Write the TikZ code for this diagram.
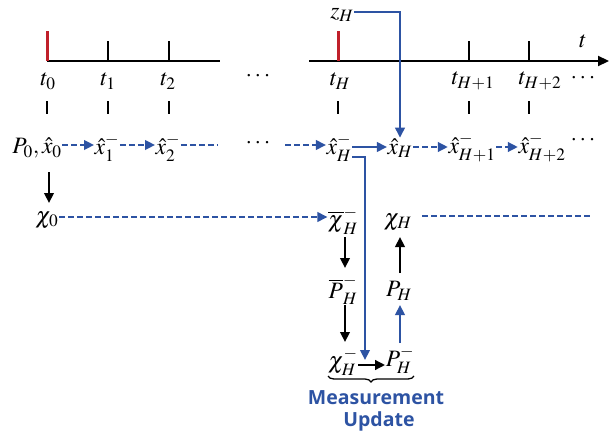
\documentclass[tikz,border=0pt]{standalone}
\usepackage{mathptmx}
\usepackage{fontspec}
\setsansfont{Open Sans}
\usetikzlibrary{arrows.meta,decorations.pathreplacing}
\definecolor{tkblue}{RGB}{45,83,163}
\definecolor{tkred}{RGB}{192,32,42}
\begin{document}
\begin{tikzpicture}[x=1pt,y=-1pt,
  lbl/.style={inner sep=0.5pt, font=\fontsize{23.5}{25}\selectfont},
  axisline/.style={line width=2.2pt},
  tickmark/.style={line width=2.2pt},
  redtick/.style={line width=3pt, draw=tkred},
  tipped/.style={-{Triangle[length=10pt,width=9.5pt]}},
  bluedash/.style={draw=tkblue, line width=2.3pt, dash pattern=on 6pt off 3pt},
  bluesolid/.style={draw=tkblue, line width=2.3pt},
  blacksolid/.style={draw=black, line width=2.3pt},
  mutext/.style={text=tkblue, font=\sffamily\bfseries\fontsize{19.5}{21}\selectfont, inner sep=0pt},
]
\useasboundingbox (0,0) rectangle (616,439);

% time axis, split in two pieces
\coordinate (axL0) at (47,61);
\coordinate (axL1) at (220,61);
\coordinate (axR0) at (309,61);
\coordinate (axR1) at (609,61);
\draw[axisline] (axL0) -- (axL1);
\draw[axisline, -{Triangle[length=11pt,width=10pt]}] (axR0) -- (axR1);

% ticks on the axis
\draw[redtick] (47,31) -- (47,61);
\draw[redtick] (338,31) -- (338,61);
\foreach \xx in {108,169,469,529} \draw[tickmark] (\xx,41) -- (\xx,61);

% time labels
\node[lbl] (t0)  at (48,81)  {$t_0$};
\node[lbl] (t1)  at (108,81) {$t_1$};
\node[lbl] (t2)  at (168,81) {$t_2$};
\node[lbl] (d1)  at (258,76) {$\cdots$};
\node[lbl] (tH)  at (340,81) {$t_H$};
\node[lbl] (tH1) at (473,81) {$t_{H+1}$};
\node[lbl] (tH2) at (540,81) {$t_{H+2}$};
\node[lbl] (d2)  at (583,78) {$\cdots$};
\node[lbl] (tt)  at (583,41) {$t$};
\node[lbl] (zH)  at (342,15) {$z_H$};

% short marks under the labels
\foreach \xx in {47,108,169,338,469,529} \draw[tickmark] (\xx,101) -- (\xx,114);

% estimate row
\node[lbl] (p0)  at (37,148)  {$P_0,\hat{x}_0$};
\node[lbl] (x1)  at (107,148) {$\hat{x}_1^-$};
\node[lbl] (x2)  at (168,148) {$\hat{x}_2^-$};
\node[lbl] (d3)  at (258,143) {$\cdots$};
\node[lbl] (xHm) at (339,148) {$\hat{x}_H^-$};
\node[lbl] (xH)  at (400,148) {$\hat{x}_H$};
\node[lbl] (xH1) at (472,148) {$\hat{x}_{H+1}^-$};
\node[lbl] (xH2) at (542,148) {$\hat{x}_{H+2}^-$};
\node[lbl] (d4)  at (583,140) {$\cdots$};

\coordinate (x2end) at (217,145);
\coordinate (xHin) at (285,145);
\draw[bluedash, tipped] (p0.east |- 0,145) -- (x1.west |- 0,145);
\draw[bluedash, tipped] (x1.east |- 0,145) -- (x2.west |- 0,145);
\draw[bluedash] (x2.east |- 0,145) -- (x2end);
\draw[bluedash, tipped] (xHin) -- (xHm.west |- 0,145);
\draw[bluesolid, tipped] (xHm.east |- 0,147) -- (xH.west |- 0,147);
\draw[bluedash, tipped] (xH.east |- 0,147) -- (xH1.west |- 0,147);
\draw[bluedash, tipped] (xH1.east |- 0,147) -- (xH2.west |- 0,147);

% measurement feeding the update
\coordinate (zc) at (400,12);
\draw[bluesolid, tipped] (zH.east |- zc) -- (zc) -- (xH.north);

% sigma point row
\node[lbl] (chi0) at (47,220)  {$\chi_0$};
\node[lbl] (cbH)  at (343,221) {$\overline{\chi}_H^-$};
\node[lbl] (chiH) at (398,222) {$\chi_H$};
\coordinate (chiend) at (590,216);
\draw[blacksolid, tipped] (49,172) -- (49,203);
\draw[bluedash, tipped] (chi0.east |- 0,217) -- (cbH.west |- 0,217);
\draw[bluedash] (422,216) -- (chiend);

% update column
\node[lbl] (PbH)  at (343,290) {$\overline{P}_H^-$};
\node[lbl] (chiHm) at (343,362) {$\chi_H^-$};
\node[lbl] (PHm)  at (400,360) {$P_H^-$};
\node[lbl] (PH)   at (399,291) {$P_H$};

\draw[blacksolid, tipped] (345,237) -- (345,268);
\draw[blacksolid, tipped] (345,305) -- (345,342);
\draw[blacksolid, tipped] (chiHm.east |- 0,365) -- (PHm.west |- 0,365);
\draw[bluesolid, tipped] (400,343) -- (400,305);
\draw[blacksolid, tipped] (400,273) -- (400,237);

\coordinate (fb) at (365,157);
\draw[bluesolid, tipped] (xHm.east |- fb) -- (fb) -- (365,360);

% brace and caption
\draw[line width=1.3pt, decorate, decoration={brace, mirror, amplitude=6pt}] (328,376) -- (414,376);
\node[mutext] (mu1) at (376,398) {Measurement};
\node[mutext] (mu2) at (379,421) {Update};
\end{tikzpicture}
\end{document}
